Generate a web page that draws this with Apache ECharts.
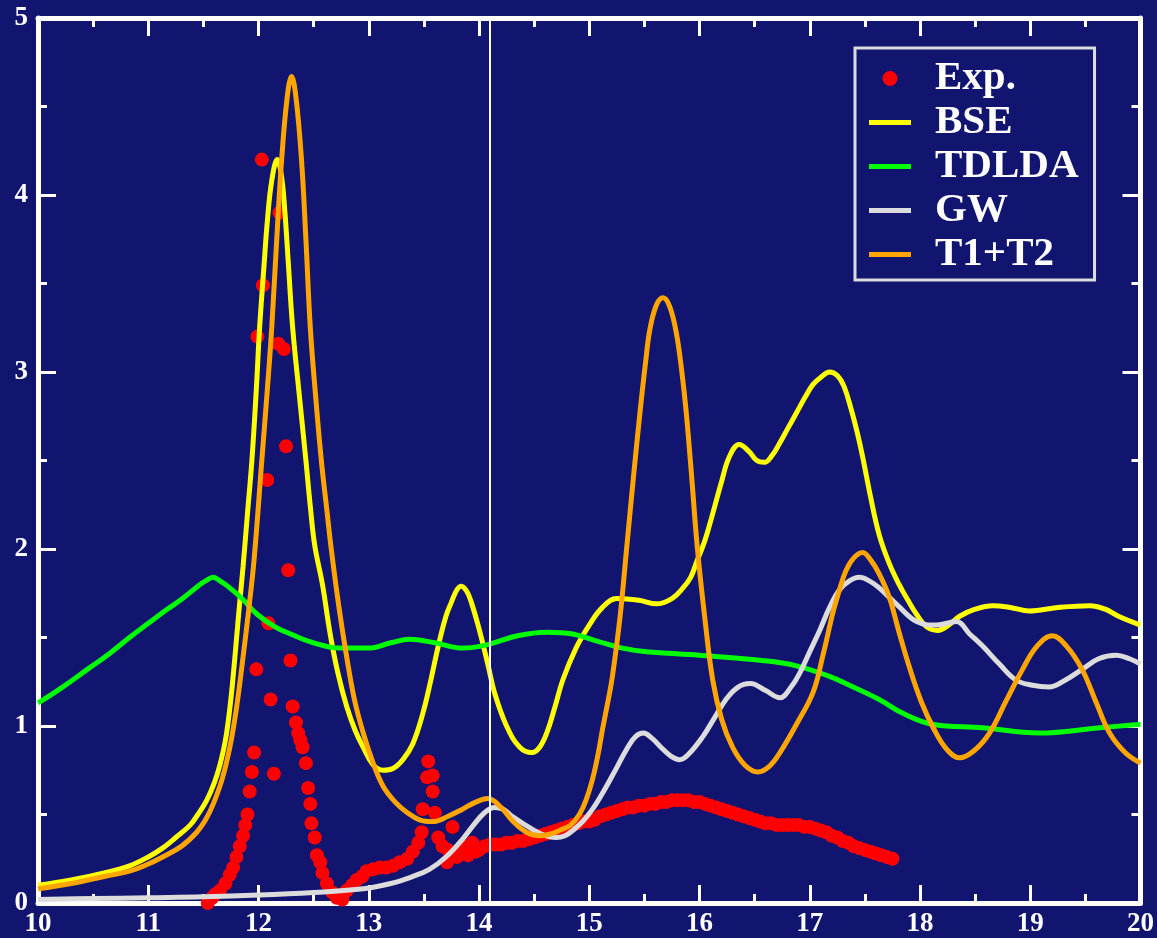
<!DOCTYPE html>
<html>
<head>
<meta charset="utf-8">
<script src="https://cdn.jsdelivr.net/npm/echarts@6/dist/echarts.min.js"></script>
<style>
html,body{margin:0;padding:0;background:#111570;}
#chart{width:1157px;height:938px;}
</style>
</head>
<body>
<div id="chart"></div>
<script>
// ---- data ----
var seriesNames = ['Exp.', 'BSE', 'TDLDA', 'GW', 'T1+T2'];
var xTicks = [10, 11, 12, 13, 14, 15, 16, 17, 18, 19, 20];
var yTicks = [0, 1, 2, 3, 4, 5];
var markerX = 14.1;

var expData = [
  [11.54,0.00],[11.58,0.03],[11.61,0.05],[11.65,0.07],[11.70,0.11],[11.74,0.16],[11.77,0.20],[11.80,0.26],
  [11.83,0.32],[11.86,0.38],[11.88,0.44],[11.90,0.50],[11.92,0.63],[11.94,0.74],[11.96,0.85],[11.98,1.32],
  [11.99,3.20],[12.03,4.20],[12.04,3.49],[12.08,2.39],[12.09,1.58],[12.11,1.15],[12.14,0.73],[12.18,3.16],
  [12.19,3.90],[12.23,3.13],[12.25,2.58],[12.27,1.88],[12.29,1.37],[12.31,1.11],[12.34,1.02],[12.36,0.96],
  [12.38,0.92],[12.40,0.88],[12.43,0.79],[12.45,0.65],[12.47,0.56],[12.48,0.45],[12.51,0.37],[12.53,0.27],
  [12.56,0.23],[12.58,0.17],[12.62,0.11],[12.67,0.06],[12.71,0.03],[12.76,0.02],[12.80,0.07],[12.85,0.10],
  [12.89,0.13],[12.94,0.15],[12.98,0.18],[13.04,0.19],[13.10,0.20],[13.16,0.20],[13.22,0.21],[13.28,0.23],
  [13.35,0.25],[13.40,0.29],[13.45,0.34],[13.48,0.40],[13.49,0.53],[13.53,0.71],[13.54,0.80],[13.58,0.72],
  [13.58,0.63],[13.60,0.51],[13.63,0.37],[13.67,0.32],[13.71,0.23],[13.76,0.43],[13.72,0.30],[13.80,0.26],
  [13.83,0.28],[13.85,0.32],[13.90,0.27],[13.94,0.34],[13.97,0.29],
  [14.00,0.30],[14.05,0.32],[14.10,0.33],[14.15,0.33],[14.20,0.33],[14.25,0.34],[14.30,0.34],[14.35,0.35],
  [14.40,0.35],[14.45,0.36],[14.50,0.37],[14.55,0.38],[14.60,0.39],[14.65,0.40],[14.70,0.41],[14.75,0.42],
  [14.80,0.43],[14.85,0.44],[14.90,0.45],[14.95,0.46],[15.00,0.46],[15.05,0.47],[15.10,0.49],[15.15,0.50],
  [15.20,0.51],[15.25,0.52],[15.30,0.53],[15.35,0.54],[15.40,0.54],[15.45,0.55],[15.50,0.55],[15.55,0.56],
  [15.60,0.56],[15.65,0.57],[15.70,0.57],[15.75,0.58],[15.80,0.58],[15.85,0.58],[15.90,0.58],[15.95,0.57],
  [16.00,0.57],[16.05,0.56],[16.10,0.55],[16.15,0.54],[16.20,0.53],[16.25,0.52],[16.30,0.51],[16.35,0.50],
  [16.40,0.49],[16.45,0.48],[16.50,0.47],[16.55,0.46],[16.60,0.45],[16.65,0.45],[16.70,0.44],[16.75,0.44],
  [16.80,0.44],[16.85,0.44],[16.90,0.44],[16.95,0.43],[17.00,0.43],[17.05,0.42],[17.10,0.41],[17.15,0.40],
  [17.20,0.38],[17.25,0.37],[17.30,0.35],[17.35,0.34],[17.40,0.32],[17.45,0.31],[17.50,0.30],[17.55,0.29],
  [17.60,0.28],[17.65,0.27],[17.70,0.26],[17.75,0.25]
];

var bseData = [
  [10.0,0.10],[10.3,0.13],[10.6,0.17],[10.83,0.21],[11.0,0.26],[11.13,0.31],[11.25,0.37],[11.38,0.44],
  [11.45,0.50],[11.53,0.58],[11.60,0.68],[11.65,0.78],[11.70,0.92],[11.74,1.10],[11.77,1.28],[11.80,1.49],
  [11.83,1.70],[11.86,1.90],[11.90,2.20],[11.94,2.50],[11.98,2.90],[12.01,3.25],[12.05,3.60],[12.08,3.85],
  [12.12,4.08],[12.17,4.20],[12.21,4.10],[12.24,3.90],[12.27,3.62],[12.31,3.25],[12.37,2.87],[12.43,2.50],
  [12.47,2.24],[12.51,2.02],[12.58,1.80],[12.65,1.52],[12.72,1.30],[12.80,1.11],[12.88,0.97],[12.95,0.88],
  [13.04,0.78],[13.13,0.75],[13.22,0.76],[13.31,0.81],[13.40,0.90],[13.49,1.07],[13.56,1.25],[13.63,1.45],
  [13.70,1.62],[13.75,1.70],[13.80,1.77],[13.84,1.79],[13.89,1.76],[13.93,1.70],[14.0,1.55],[14.08,1.35],
  [14.14,1.19],[14.25,1.00],[14.37,0.88],[14.48,0.85],[14.55,0.88],[14.62,0.97],[14.69,1.11],[14.76,1.26],
  [14.88,1.44],[15.0,1.57],[15.12,1.67],[15.25,1.72],[15.45,1.71],[15.61,1.69],[15.75,1.72],[15.85,1.78],
  [15.92,1.84],[15.97,1.92],[16.05,2.05],[16.12,2.20],[16.20,2.38],[16.27,2.52],[16.36,2.59],[16.45,2.55],
  [16.52,2.50],[16.59,2.49],[16.66,2.53],[16.72,2.59],[16.80,2.68],[16.88,2.77],[16.96,2.86],[17.03,2.93],
  [17.10,2.97],[17.18,3.00],[17.25,2.98],[17.31,2.92],[17.38,2.78],[17.43,2.66],[17.48,2.52],[17.55,2.30],
  [17.63,2.08],[17.72,1.92],[17.81,1.80],[17.90,1.70],[17.97,1.63],[18.06,1.56],[18.16,1.54],[18.26,1.57],
  [18.36,1.62],[18.50,1.66],[18.66,1.68],[18.82,1.67],[18.99,1.65],[19.25,1.67],[19.54,1.68],[19.68,1.66],
  [19.80,1.62],[20.0,1.57]
];

var tdldaData = [
  [10.0,1.13],[10.2,1.21],[10.47,1.33],[10.65,1.41],[10.83,1.50],[11.0,1.58],[11.15,1.65],[11.29,1.71],
  [11.45,1.79],[11.52,1.82],[11.59,1.84],[11.65,1.82],[11.72,1.79],[11.85,1.72],[11.99,1.63],[12.15,1.56],
  [12.29,1.52],[12.5,1.47],[12.74,1.44],[13.0,1.44],[13.2,1.47],[13.37,1.49],[13.6,1.47],[13.85,1.44],
  [14.08,1.46],[14.35,1.51],[14.62,1.53],[14.85,1.52],[15.07,1.48],[15.3,1.44],[15.52,1.42],[16.0,1.40],
  [16.57,1.37],[16.88,1.34],[17.18,1.28],[17.36,1.23],[17.63,1.15],[17.85,1.07],[18.11,1.01],[18.57,0.99],
  [19.08,0.96],[19.63,0.99],[20.0,1.01]
];

var gwData = [
  [10.0,0.02],[10.5,0.025],[11.0,0.03],[11.5,0.035],[12.0,0.045],[12.5,0.06],[12.95,0.08],[13.2,0.11],
  [13.4,0.15],[13.55,0.19],[13.7,0.26],[13.85,0.36],[13.95,0.44],[14.05,0.51],[14.14,0.54],[14.22,0.53],
  [14.3,0.49],[14.5,0.41],[14.6,0.38],[14.7,0.37],[14.78,0.38],[14.85,0.41],[14.94,0.46],[15.03,0.53],
  [15.12,0.62],[15.21,0.72],[15.35,0.88],[15.42,0.94],[15.49,0.96],[15.57,0.93],[15.65,0.88],[15.74,0.83],
  [15.82,0.81],[15.90,0.84],[16.03,0.94],[16.14,1.05],[16.24,1.15],[16.35,1.22],[16.46,1.24],[16.6,1.20],
  [16.73,1.16],[16.83,1.22],[16.91,1.30],[17.0,1.42],[17.09,1.54],[17.18,1.67],[17.27,1.77],[17.36,1.82],
  [17.45,1.84],[17.54,1.82],[17.63,1.78],[17.8,1.68],[17.97,1.59],[18.15,1.57],[18.33,1.59],[18.45,1.52],
  [18.57,1.45],[18.72,1.35],[18.87,1.26],[19.02,1.23],[19.17,1.22],[19.32,1.26],[19.47,1.32],[19.62,1.38],
  [19.78,1.40],[19.9,1.38],[20.0,1.35]
];

var t12Data = [
  [10.0,0.08],[10.3,0.11],[10.6,0.15],[10.83,0.18],[11.0,0.22],[11.13,0.26],[11.3,0.32],[11.44,0.40],
  [11.52,0.47],[11.59,0.56],[11.67,0.70],[11.74,0.88],[11.80,1.10],[11.86,1.39],[11.91,1.65],[11.96,1.94],
  [12.03,2.50],[12.08,2.90],[12.12,3.25],[12.17,3.80],[12.21,4.20],[12.26,4.55],[12.30,4.67],[12.34,4.55],
  [12.39,4.20],[12.43,3.75],[12.47,3.25],[12.52,2.85],[12.57,2.50],[12.62,2.22],[12.66,2.00],[12.73,1.67],
  [12.80,1.39],[12.87,1.15],[12.95,0.96],[13.04,0.79],[13.13,0.66],[13.24,0.57],[13.35,0.51],[13.46,0.47],
  [13.58,0.46],[13.72,0.49],[13.85,0.53],[13.97,0.57],[14.08,0.59],[14.20,0.54],[14.31,0.46],[14.43,0.40],
  [14.55,0.38],[14.65,0.39],[14.73,0.41],[14.83,0.44],[14.91,0.50],[14.97,0.58],[15.03,0.70],[15.08,0.84],
  [15.12,0.98],[15.17,1.14],[15.21,1.28],[15.28,1.62],[15.34,2.01],[15.40,2.40],[15.46,2.77],[15.51,3.05],
  [15.55,3.24],[15.61,3.38],[15.67,3.42],[15.73,3.37],[15.79,3.22],[15.84,3.00],[15.88,2.77],[15.93,2.40],
  [15.98,2.01],[16.05,1.60],[16.12,1.26],[16.20,1.04],[16.30,0.88],[16.41,0.78],[16.53,0.74],[16.63,0.77],
  [16.73,0.85],[16.88,1.01],[17.03,1.19],[17.12,1.40],[17.21,1.64],[17.27,1.77],[17.33,1.88],[17.40,1.95],
  [17.48,1.98],[17.55,1.94],[17.63,1.86],[17.72,1.73],[17.81,1.53],[17.91,1.32],[18.01,1.14],[18.12,0.99],
  [18.24,0.87],[18.36,0.82],[18.49,0.86],[18.63,0.96],[18.78,1.14],[18.93,1.32],[19.06,1.45],[19.20,1.51],
  [19.33,1.45],[19.47,1.32],[19.60,1.13],[19.72,0.96],[19.86,0.85],[20.0,0.79]
];

var colors = ['#ff0000', '#ffff00', '#00ff00', '#dcdcdc', '#ffa500'];

// ---- chart ----
var chart = echarts.init(document.getElementById('chart'), null, {renderer: 'canvas'});
var FONT = 'Liberation Serif';
var LINE_ICON = 'path://M0,0L0.01,0M0,5H42V10H0ZM0,15L0.01,15';
function baseX(pos, showLabel) {
  return {
    type: 'value', position: pos, min: xTicks[0], max: xTicks[xTicks.length - 1], interval: 1,
    axisLine: {show: true, onZero: false, lineStyle: {color: '#ffffff', width: 5}},
    axisTick: {show: true, inside: true, length: 18, lineStyle: {color: '#ffffff', width: 3}},
    minorTick: {show: true, splitNumber: 2, length: 9, lineStyle: {color: '#ffffff', width: 3}},
    splitLine: {show: false},
    axisLabel: {show: showLabel, color: '#ffffff', fontFamily: FONT, fontWeight: 'bold', fontSize: 27, margin: 8}
  };
}
function baseY(pos, showLabel) {
  return {
    type: 'value', position: pos, min: yTicks[0], max: yTicks[yTicks.length - 1], interval: 1,
    axisLine: {show: true, onZero: false, lineStyle: {color: '#ffffff', width: 5}},
    axisTick: {show: true, inside: true, length: 18, lineStyle: {color: '#ffffff', width: 3}},
    minorTick: {show: true, splitNumber: 2, length: 9, lineStyle: {color: '#ffffff', width: 3}},
    splitLine: {show: false},
    axisLabel: {show: showLabel, color: '#ffffff', fontFamily: FONT, fontWeight: 'bold', fontSize: 27, margin: 10}
  };
}
function lineSeries(name, data, color) {
  return {
    name: name, type: 'line', data: data, xAxisIndex: 0, yAxisIndex: 0,
    smooth: 0.4, symbol: 'none', showSymbol: false,
    lineStyle: {color: color, width: 5}, itemStyle: {color: color},
    emphasis: {disabled: true}, silent: true
  };
}

var option = {
  backgroundColor: '#111570',
  animation: false,
  grid: {left: 38, right: 16, top: 18, bottom: 35, containLabel: false},
  xAxis: [baseX('bottom', true), baseX('top', false)],
  yAxis: [baseY('left', true), baseY('right', false)],
  legend: {
    orient: 'vertical', left: 855, top: 48,
    data: seriesNames.map(function (n, i) {
      return i === 0
        ? {name: n, icon: 'circle', itemStyle: {color: colors[0], opacity: 1}}
        : {name: n, icon: LINE_ICON, itemStyle: {color: colors[i]}};
    }),
    itemWidth: 42, itemHeight: 15, itemGap: 3,
    padding: [10, 16, 5, 14],
    borderColor: '#dcdcdc', borderWidth: 3,
    backgroundColor: '#111570',
    textStyle: {color: '#ffffff', fontFamily: FONT, fontWeight: 'bold', fontSize: 41, lineHeight: 40, padding: [0, 0, 0, 19]},
    selectedMode: false
  },
  series: [
    {
      name: seriesNames[0], type: 'scatter', data: expData, xAxisIndex: 0, yAxisIndex: 0,
      symbol: 'circle', symbolSize: 14, itemStyle: {color: colors[0], opacity: 1},
      emphasis: {disabled: true}, silent: true,
      markLine: {
        silent: true, symbol: ['none', 'none'], label: {show: false},
        lineStyle: {color: '#ffffff', width: 2, type: 'solid', opacity: 1},
        data: [{xAxis: markerX}]
      }
    },
    lineSeries(seriesNames[1], bseData, colors[1]),
    lineSeries(seriesNames[2], tdldaData, colors[2]),
    lineSeries(seriesNames[3], gwData, colors[3]),
    lineSeries(seriesNames[4], t12Data, colors[4])
  ]
};
chart.setOption(option);
</script>
</body>
</html>
